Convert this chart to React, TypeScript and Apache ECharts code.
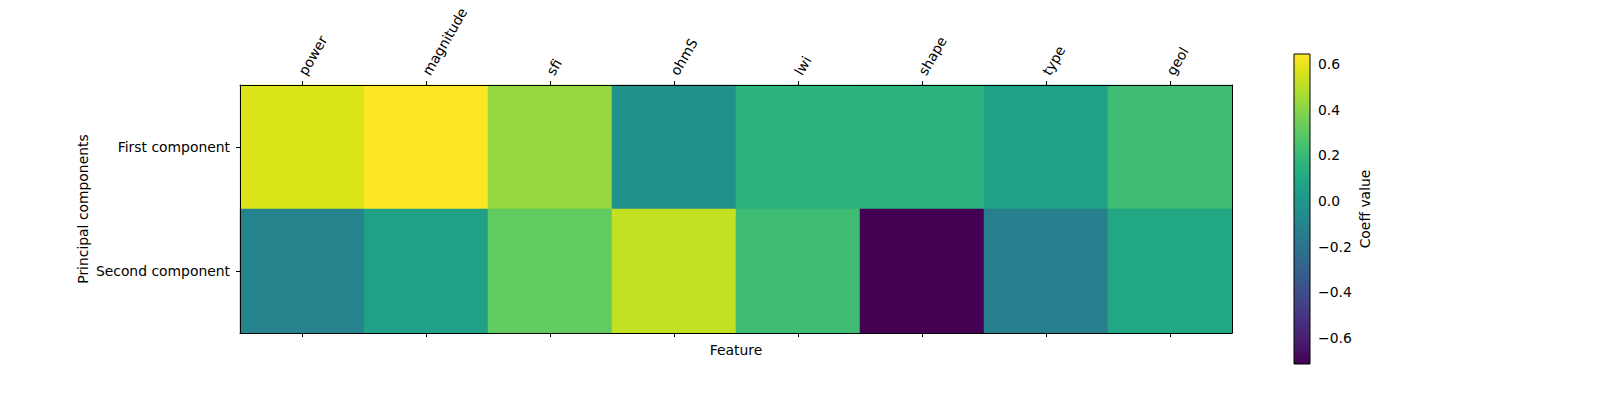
import React, { useEffect, useRef } from "react";
import * as echarts from "echarts";

const features = ["power", "magnitude", "sfi", "ohmS", "lwi", "shape", "type", "geol"];
const components = ["First component", "Second component"];
const firstValues = [0.569, 0.644, 0.427, -0.035, 0.163, 0.157, 0.06, 0.216];
const secondValues = [-0.11, 0.053, 0.311, 0.522, 0.218, -0.715, -0.13, 0.094];
const colorbarTicks = [-0.6, -0.4, -0.2, 0.0, 0.2, 0.4, 0.6];
const viridis = [
  "#440154", "#471365", "#482475", "#463480", "#414487", "#3b528b", "#355f8d",
  "#2f6c8e", "#2a788e", "#25848e", "#21918c", "#1e9c89", "#22a884", "#2fb47c",
  "#44bf70", "#5ec962", "#7ad151", "#9bd93c", "#bddf26", "#dfe318", "#fde725",
];

const FONT = "DejaVu Sans";
const FS = 13.9;

export default function App() {
  const ref = useRef<HTMLDivElement>(null);
  useEffect(() => {
    document.body.style.margin = "0";
    if (!ref.current) return;
    const chart = echarts.init(ref.current, undefined, { renderer: "svg" });
    const all = [...firstValues, ...secondValues];
    const vmin = Math.min(...all);
    const vmax = Math.max(...all);
    const data: number[][] = [];
    [firstValues, secondValues].forEach((row, yi) => {
      row.forEach((v, xi) => data.push([xi, yi, v]));
    });
    const stops = viridis.map((c, i) => ({ offset: i / (viridis.length - 1), color: c }));
    const axisText = { color: "#000", fontFamily: FONT, fontSize: FS };
    const fmt = (v: number) => {
      const s = Math.abs(v).toFixed(1);
      return v < -1e-9 ? "\u2212" + s : s;
    };
    const tick = { show: true, alignWithLabel: true, length: 4, lineStyle: { color: "#000", width: 1 } };
    chart.setOption({
      animation: false,
      textStyle: { fontFamily: FONT },
      grid: [
        { left: 240, top: 85, width: 992, height: 248 },
        { left: 1294, top: 54, width: 16, height: 310 },
      ],
      xAxis: [
        {
          type: "category", data: features, position: "top", gridIndex: 0, z: 10,
          axisLine: { lineStyle: { color: "#000", width: 1 } },
          axisTick: tick,
          axisLabel: { ...axisText, rotate: -60, margin: 11, interval: 0 },
          splitLine: { show: false },
        },
        {
          type: "category", data: features, position: "bottom", gridIndex: 0, z: 10,
          axisLine: { lineStyle: { color: "#000", width: 1 } },
          axisTick: tick,
          axisLabel: { show: false },
          name: "Feature", nameLocation: "middle", nameGap: 10, nameMoveOverlap: false,
          nameTextStyle: { ...axisText, verticalAlign: "top" },
        },
        {
          type: "value", gridIndex: 1, min: 0, max: 1, show: false,
        },
      ],
      yAxis: [
        {
          type: "category", data: components, inverse: true, gridIndex: 0, position: "left", z: 10,
          axisLine: { lineStyle: { color: "#000", width: 1 } },
          axisTick: tick,
          axisLabel: { ...axisText, margin: 10 },
          name: "Principal components", nameLocation: "middle", nameGap: 150, nameRotate: 90,
          nameMoveOverlap: false,
          nameTextStyle: axisText,
        },
        {
          type: "category", data: components, inverse: true, gridIndex: 0, position: "right", z: 10,
          axisLine: { lineStyle: { color: "#000", width: 1 } },
          axisTick: { show: false }, axisLabel: { show: false },
        },
        {
          type: "value", gridIndex: 1, position: "right", min: vmin, max: vmax,
          axisLine: { show: false },
          axisTick: { show: true, length: 4, lineStyle: { color: "#000" }, customValues: colorbarTicks },
          axisLabel: { ...axisText, margin: 8, customValues: colorbarTicks, formatter: fmt },
          splitLine: { show: false },
          name: "Coeff value", nameLocation: "middle", nameGap: 48, nameRotate: 90,
          nameTextStyle: axisText,
        },
      ],
      visualMap: {
        show: false, type: "continuous", min: vmin, max: vmax, seriesIndex: 0,
        inRange: { color: viridis },
      },
      series: [
        {
          type: "heatmap", xAxisIndex: 0, yAxisIndex: 0, data,
          itemStyle: { borderWidth: 0 },
          emphasis: { disabled: true },
        },
        {
          type: "custom", xAxisIndex: 2, yAxisIndex: 2,
          data: [[0, 1, vmin, vmax]],
          encode: { x: [0, 1], y: [2, 3] },
          renderItem: (params: any, api: any) => {
            const p0 = api.coord([api.value(0), api.value(2)]);
            const p1 = api.coord([api.value(1), api.value(3)]);
            return {
              type: "rect",
              shape: { x: p0[0], y: p1[1], width: p1[0] - p0[0], height: p0[1] - p1[1] },
              style: {
                fill: new echarts.graphic.LinearGradient(0, 1, 0, 0, stops),
                stroke: "#000",
                lineWidth: 1,
              },
            };
          },
        },
      ],
    });
    return () => chart.dispose();
  }, []);
  return <div ref={ref} style={{ width: 1600, height: 400 }} />;
}
